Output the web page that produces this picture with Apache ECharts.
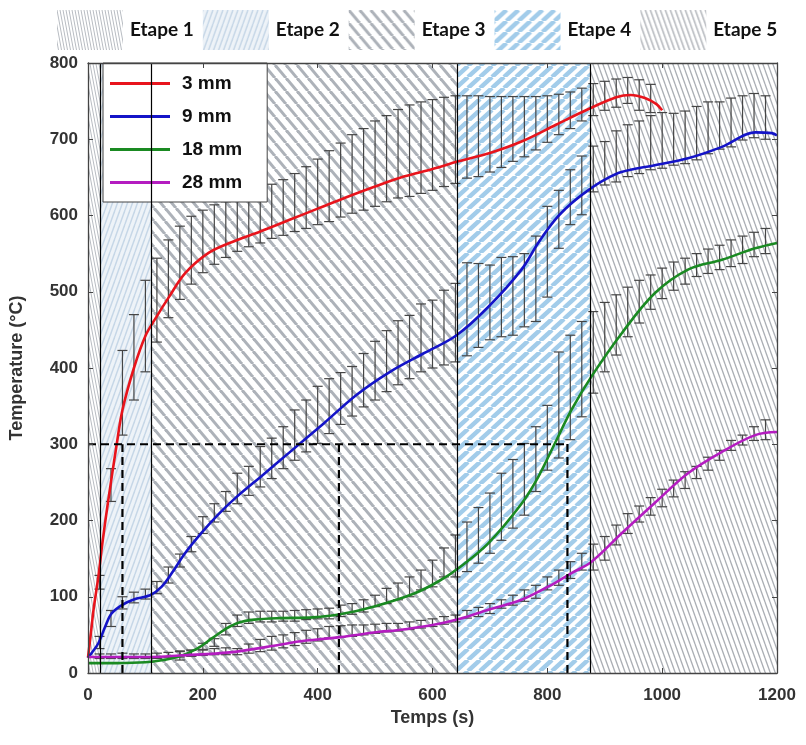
<!DOCTYPE html>
<html><head><meta charset="utf-8">
<script src="https://cdn.jsdelivr.net/npm/echarts@6/dist/echarts.min.js"></script>
<style>html,body{margin:0;padding:0;background:#fff}#c{width:806px;height:745px}</style>
</head><body><div id="c"></div><script>
// ---------- data ----------
const stageNames = ['Etape 1','Etape 2','Etape 3','Etape 4','Etape 5'];
const stageStart = [0, 21, 110, 643, 875];
const stageEnd   = [21, 110, 643, 875, 1200];
const stageBounds = [21, 110, 643, 875];
const tempMin = 0, tempMax = 800;
const xTicks = [0, 1200, 200];

const seriesNames = ['3 mm', '9 mm', '18 mm', '28 mm'];

const red = [[0,20],[5,52],[10,85],[18,126],[25,170],[35,225],[50,300],[60,345],[80,400],[100,442],[120,468],[140,492],[170,525],[210,551],[250,565],[300,579],[350,594],[400,609],[450,624],[500,638],[550,651],[600,661],[645,671],[700,682],[755,697],[815,719],[870,739],[920,755],[945,758],[970,754],[990,746],[1000,738]];
const blue = [[0,20],[6,26],[18,39],[30,61],[41,78],[59,89],[82,97],[108,102],[128,113],[146,131],[169,157],[198,184],[227,208],[256,229],[305,260],[352,290],[410,327],[468,365],[526,395],[584,419],[642,443],[697,480],[755,529],[784,564],[813,594],[842,616],[871,633],[900,647],[929,657],[987,666],[1045,675],[1104,690],[1162,709],[1191,708],[1200,705]];
const green = [[0,13],[50,13],[100,14],[131,17],[160,22],[190,32],[215,45],[240,58],[262,66],[290,70],[334,72],[392,73],[439,77],[497,87],[567,104],[610,120],[648,139],[697,170],[755,222],[784,257],[813,301],[842,345],[877,389],[929,445],[987,498],[1045,529],[1104,542],[1162,557],[1200,564]];
const magenta = [[0,21],[111,21],[160,23],[247,27],[334,37],[363,41],[439,47],[508,54],[538,56],[600,63],[648,71],[697,83],[755,96],[813,118],[842,131],[877,146],[929,183],[987,223],[1045,262],[1104,290],[1162,312],[1200,316]];

// error bars: [time, low, high]
const redErr = [[20,110,128],[40,225,268],[60,312,423],[80,358,470],[100,395,515],[120,434,544],[140,466,568],[160,490,586],[180,510,599],[200,525,607],[220,536,614],[240,545,618],[260,553,622],[280,559,627],[300,564,631],[320,570,641],[340,574,647],[360,579,655],[380,583,664],[400,588,674],[420,592,685],[440,598,695],[460,603,706],[480,607,714],[500,612,724],[520,618,731],[540,623,739],[560,625,745],[580,629,749],[600,633,752],[620,638,755],[640,642,757],[660,649,757],[680,651,757],[700,657,756],[720,663,756],[740,671,756],[760,677,756],[780,686,756],[800,696,757],[820,706,759],[840,714,762],[860,724,767],[880,731,773],[900,738,776],[920,742,779],[940,747,781],[960,738,778],[980,735,772]];
const blueErr = [[20,32,48],[40,61,82],[60,84,100],[80,92,106],[100,97,110],[120,104,120],[140,118,139],[160,139,156],[180,159,179],[200,183,205],[220,198,222],[240,212,238],[260,222,262],[280,233,271],[300,244,297],[320,255,308],[340,268,323],[360,279,345],[380,290,358],[400,301,376],[420,314,386],[440,326,394],[460,337,402],[480,349,419],[500,358,435],[520,369,449],[540,378,462],[560,386,469],[580,395,484],[600,400,489],[620,404,502],[640,408,511],[660,416,538],[680,427,537],[700,437,535],[720,441,545],[740,443,546],[760,454,550],[780,461,573],[800,493,612],[820,557,633],[840,588,660],[860,601,678],[880,631,691],[900,640,697],[920,644,711],[940,651,719],[960,655,724],[980,660,731],[1000,662,735],[1020,666,734],[1040,668,737],[1060,673,743],[1080,681,749],[1100,687,749],[1120,690,754],[1140,699,757],[1160,702,760],[1180,700,757]];
const greenErr = [[160,17,28],[180,22,30],[200,30,39],[220,35,45],[240,50,65],[260,61,76],[280,65,80],[300,67,81],[320,67,81],[340,68,81],[360,68,82],[380,70,83],[400,71,84],[420,71,85],[440,74,89],[460,77,91],[480,80,96],[500,87,102],[520,91,111],[540,96,118],[560,100,126],[580,109,135],[600,113,148],[620,126,164],[640,126,181],[660,133,198],[680,144,217],[700,157,236],[720,174,262],[740,190,280],[760,207,301],[780,238,323],[800,266,351],[820,282,421],[840,306,443],[860,336,461],[880,367,474],[900,395,486],[920,417,496],[940,441,506],[960,459,515],[980,477,522],[1000,491,531],[1020,502,539],[1040,510,544],[1060,520,550],[1080,524,556],[1100,529,561],[1120,533,568],[1140,537,573],[1160,546,578],[1180,550,583]];
const magentaErr = [[20,19,25],[40,19,25],[60,19,26],[80,19,25],[100,19,25],[120,19,26],[140,20,27],[160,21,29],[180,22,30],[200,23,31],[220,24,32],[240,24,33],[260,24,32],[280,26,38],[300,28,44],[320,30,48],[340,33,50],[360,36,53],[380,39,56],[400,42,58],[420,46,61],[440,47,62],[460,48,63],[480,50,63],[500,52,64],[520,54,65],[540,55,65],[560,57,67],[580,59,69],[600,61,71],[620,64,74],[640,67,76],[660,72,82],[680,74,86],[700,78,91],[720,85,96],[740,89,102],[760,94,109],[780,98,115],[800,109,126],[820,115,135],[840,124,146],[860,135,157],[880,135,169],[900,148,179],[920,168,194],[940,183,209],[960,198,219],[980,207,230],[1000,218,241],[1020,231,253],[1040,242,264],[1060,255,271],[1080,266,283],[1100,279,292],[1120,292,305],[1140,299,312],[1160,305,323],[1180,306,332]];

// dashed guide segments: [x1, y1, x2, y2]
const guides = [[0,300,835,300],[60,0,60,300],[437,0,437,300],[835,0,835,305]];

// ---------- styles ----------
function makePattern(w, h, bg, stroke, lw, dir) {
  const c = document.createElement('canvas'); c.width = w; c.height = h;
  const g = c.getContext('2d');
  g.fillStyle = bg; g.fillRect(0, 0, w, h);
  g.strokeStyle = stroke; g.lineWidth = lw;
  for (let k = -1; k <= 1; k++) {
    g.beginPath();
    if (dir === '\\') { g.moveTo(k * w, 0); g.lineTo(k * w + w, h); }
    else { g.moveTo(k * w + w, 0); g.lineTo(k * w, h); }
    g.stroke();
  }
  return { image: c, repeat: 'repeat' };
}
const patterns = [
  makePattern(3, 16, '#ffffff', '#b8bcc2', 1, '\\'),
  makePattern(5, 14, '#eef3f8', '#c6d7e7', 1.5, '/'),
  makePattern(11, 13, '#ffffff', '#adb2b9', 3.0, '\\'),
  makePattern(12, 11, '#ffffff', '#a2ccea', 4.4, '/'),
  makePattern(5, 14, '#ffffff', '#aaaeb4', 1.3, '\\')
];
const lineColors = ['#e8141c', '#1414c8', '#1a8a22', '#b41cc0'];
const FONT = "'Liberation Sans', Arial, sans-serif";

function stageRender(pat) {
  return function (params, api) {
    const p0 = api.coord([api.value(0), api.value(3)]);
    const p1 = api.coord([api.value(1), api.value(2)]);
    return { type: 'rect', shape: { x: p0[0], y: p0[1], width: p1[0] - p0[0], height: p1[1] - p0[1] }, style: { fill: pat } };
  };
}
function errRender(params, api) {
  const a = api.coord([api.value(0), api.value(1)]);
  const b = api.coord([api.value(0), api.value(2)]);
  const hw = 5, st = { stroke: '#454545', lineWidth: 1.2 };
  return { type: 'group', children: [
    { type: 'line', shape: { x1: a[0], y1: a[1], x2: b[0], y2: b[1] }, style: st },
    { type: 'line', shape: { x1: a[0] - hw, y1: a[1], x2: a[0] + hw, y2: a[1] }, style: st },
    { type: 'line', shape: { x1: b[0] - hw, y1: b[1], x2: b[0] + hw, y2: b[1] }, style: st }
  ]};
}
function guideRender(params, api) {
  const a = api.coord([api.value(0), api.value(1)]);
  const b = api.coord([api.value(2), api.value(3)]);
  return { type: 'line', shape: { x1: a[0], y1: a[1], x2: b[0], y2: b[1] }, style: { stroke: '#000', lineWidth: 2.2, lineDash: [8, 5] } };
}

const series = [];
stageNames.forEach((n, i) => {
  const s = {
    name: n, type: 'custom', z: 1, clip: true,
    itemStyle: { color: patterns[i] },
    renderItem: stageRender(patterns[i]),
    encode: { x: [0, 1], y: [2, 3] },
    data: [[stageStart[i], stageEnd[i], tempMin, tempMax]]
  };
  if (i === 0) {
    s.markLine = { silent: true, symbol: 'none', label: { show: false },
      lineStyle: { color: '#000', width: 1.2, type: 'solid' },
      data: stageBounds.map(x => ({ xAxis: x })) };
  }
  series.push(s);
});
[redErr, blueErr, greenErr, magentaErr].forEach((d, i) => {
  series.push({ name: 'err' + i, type: 'custom', z: 3, renderItem: errRender, encode: { x: 0, y: [1, 2] }, data: d });
});
[red, blue, green, magenta].forEach((d, i) => {
  series.push({ name: seriesNames[i], type: 'line', z: 4, smooth: 0.35, symbol: 'none', showSymbol: false,
    lineStyle: { color: lineColors[i], width: 2.6 }, itemStyle: { color: lineColors[i] }, data: d });
});
series.push({ name: 'guides', type: 'custom', z: 5, renderItem: guideRender, encode: { x: [0, 2], y: [1, 3] }, data: guides });

const axisCommon = {
  type: 'value', z: 10,
  axisLine: { show: true, onZero: false, lineStyle: { color: '#444', width: 1.3 } },
  axisTick: { show: true, inside: true, length: 5, lineStyle: { color: '#444' } },
  splitLine: { show: false }
};
const plainNum = v => String(v);

const option = {
  animation: false,
  grid: { left: 88, right: 29, top: 63, bottom: 72 },
  legend: [
    { data: stageNames, left: 52, top: 5, itemWidth: 66, itemHeight: 40, itemGap: 9,
      icon: 'rect', selectedMode: false,
      textStyle: { fontFamily: "Lato, 'Open Sans', sans-serif", fontWeight: 'bold', fontSize: 19, color: '#111', padding: [0, 0, 0, 2] } },
    { data: seriesNames, orient: 'vertical', left: 103, top: 63, itemWidth: 60, itemHeight: 3, itemGap: 12,
      icon: 'rect', padding: [10, 25, 9, 7], backgroundColor: '#fff', borderColor: '#444', borderWidth: 1, selectedMode: false,
      textStyle: { fontFamily: FONT, fontWeight: 'bold', fontSize: 19, lineHeight: 21, color: '#111', padding: [0, 0, 0, 7] } }
  ],
  xAxis: [
    Object.assign({}, axisCommon, { min: xTicks[0], max: xTicks[1], interval: xTicks[2], position: 'bottom',
      axisLabel: { fontFamily: FONT, fontWeight: 'bold', fontSize: 17, color: '#333', margin: 14, formatter: plainNum },
      name: 'Temps (s)', nameLocation: 'middle', nameGap: 36,
      nameTextStyle: { fontFamily: FONT, fontWeight: 'bold', fontSize: 18, color: '#333' } }),
    Object.assign({}, axisCommon, { min: xTicks[0], max: xTicks[1], interval: xTicks[2], position: 'top', axisLabel: { show: false } })
  ],
  yAxis: [
    Object.assign({}, axisCommon, { min: tempMin, max: tempMax, interval: 100, position: 'left',
      axisLabel: { fontFamily: FONT, fontWeight: 'bold', fontSize: 17, color: '#333', margin: 10, formatter: plainNum },
      name: 'Temperature (°C)', nameLocation: 'middle', nameGap: 62,
      nameTextStyle: { fontFamily: FONT, fontWeight: 'bold', fontSize: 18, color: '#333' } }),
    Object.assign({}, axisCommon, { min: tempMin, max: tempMax, interval: 100, position: 'right', axisLabel: { show: false } })
  ],
  series: series
};
const chart = echarts.init(document.getElementById('c'), null, { renderer: 'canvas' });
chart.setOption(option);
</script></body></html>
